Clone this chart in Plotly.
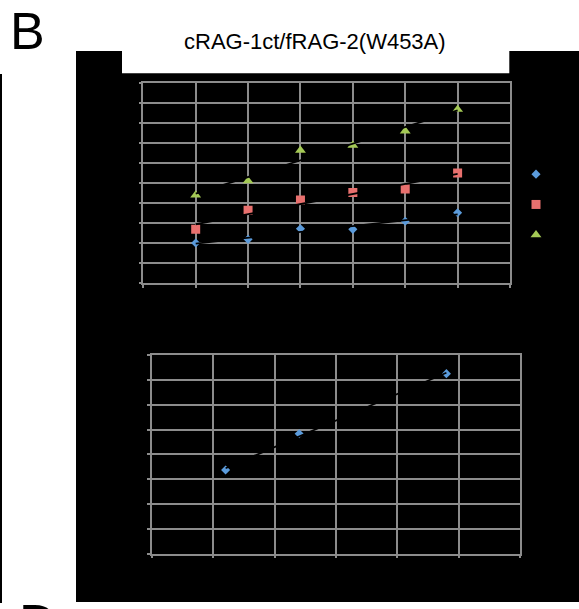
import numpy as np
import plotly.graph_objects as go

W, H = 579, 609

# ---- data: upper panel (three series at positions 1..6) ----
x_top = [1, 2, 3, 4, 5, 6]
blue_top = [2.01, 2.19, 2.72, 2.69, 3.09, 3.52]
red_top = [2.69, 3.64, 4.15, 4.53, 4.70, 5.50]
green_top = [4.40, 5.10, 6.63, 6.88, 7.59, 8.67]
series_names = ["1", "2", "3"]

# ---- data: lower panel ----
x_bot = [1.2, 2.4, 4.8]
blue_bot = [3.37, 4.83, 7.25]

title_text = "cRAG-1ct/fRAG-2(W453A)"

BLUE = "#5b9bdb"
RED = "#e8706e"
GREEN = "#a4c955"
GRID = "#8c8c8c"


def px_x(p):
    return p / W


def px_y(p):
    return 1 - p / H


fig = go.Figure()

# upper panel markers
for ys, col, sym, size, name in [
    (blue_top, BLUE, "diamond", 7, series_names[0]),
    (red_top, RED, "square", 9, series_names[1]),
    (green_top, GREEN, "triangle-up", 9.5, series_names[2]),
]:
    fig.add_trace(go.Scatter(
        x=x_top, y=ys, mode="markers", name=name,
        marker=dict(symbol=sym, size=size, color=col, line=dict(width=0)),
        xaxis="x", yaxis="y",
    ))

# linear trendlines (black, drawn over the markers)
for ys in (blue_top, red_top, green_top):
    k, b = np.polyfit(x_top, ys, 1)
    xs = np.array([x_top[0], x_top[-1]])
    fig.add_trace(go.Scatter(
        x=xs, y=k * xs + b, mode="lines", showlegend=False, hoverinfo="skip",
        line=dict(color="black", width=1.8), xaxis="x", yaxis="y",
    ))

# lower panel
fig.add_trace(go.Scatter(
    x=x_bot, y=blue_bot, mode="markers", showlegend=False,
    marker=dict(symbol="diamond", size=7, color=BLUE, line=dict(width=0)),
    xaxis="x2", yaxis="y2",
))
k, b = np.polyfit(x_bot, blue_bot, 1)
xs = np.array([x_bot[0], x_bot[-1]])
fig.add_trace(go.Scatter(
    x=xs, y=k * xs + b, mode="lines", showlegend=False, hoverinfo="skip",
    line=dict(color="black", width=1.8), xaxis="x2", yaxis="y2",
))

axis_style = dict(
    showgrid=True, gridcolor=GRID, gridwidth=1.5,
    showline=True, linecolor=GRID, linewidth=1.5, mirror=True,
    ticks="outside", ticklen=3, tickcolor=GRID, tickwidth=1.5,
    showticklabels=False, zeroline=False, dtick=1,
)

fig.update_layout(
    width=W, height=H,
    margin=dict(l=0, r=0, t=0, b=0, autoexpand=False),
    paper_bgcolor="white", plot_bgcolor="black",
    xaxis=dict(domain=[px_x(143.3), px_x(510)], range=[0, 7], anchor="y", **axis_style),
    yaxis=dict(domain=[px_y(283.3), px_y(82.7)], range=[0, 10], anchor="x", **axis_style),
    xaxis2=dict(domain=[px_x(152), px_x(520)], range=[0, 6], anchor="y2", **axis_style),
    yaxis2=dict(domain=[px_y(553.7), px_y(355)], range=[0, 8], anchor="x2", **axis_style),
    showlegend=True,
    legend=dict(
        x=px_x(516), y=px_y(154), xanchor="left", yanchor="top",
        font=dict(size=21, color="black", family="Liberation Sans, Arial"),
        bgcolor="rgba(0,0,0,0)", borderwidth=0,
    ),
    shapes=[
        # black backdrop
        dict(type="rect", xref="paper", yref="paper", layer="below",
             x0=px_x(76), x1=1, y0=px_y(602), y1=px_y(51),
             fillcolor="black", line=dict(width=0)),
        # white title band
        dict(type="rect", xref="paper", yref="paper", layer="below",
             x0=px_x(122), x1=px_x(509.3), y0=px_y(73.3), y1=px_y(51),
             fillcolor="white", line=dict(width=0)),
        # left rule
        dict(type="rect", xref="paper", yref="paper", layer="below",
             x0=0, x1=px_x(2), y0=px_y(603), y1=px_y(74),
             fillcolor="black", line=dict(width=0)),
    ],
    annotations=[
        dict(text=title_text, xref="paper", yref="paper",
             x=px_x(315), y=px_y(41), xanchor="center", yanchor="middle",
             showarrow=False,
             font=dict(size=22, color="black", family="Liberation Sans, Arial")),
        dict(text="B", xref="paper", yref="paper",
             x=px_x(27.7), y=px_y(31), xanchor="center", yanchor="middle",
             showarrow=False,
             font=dict(size=52, color="black", family="Liberation Sans, Arial")),
        dict(text="D", xref="paper", yref="paper",
             x=px_x(38), y=px_y(592), xanchor="center", yanchor="top",
             showarrow=False,
             font=dict(size=52, color="black", family="Liberation Sans, Arial")),
    ],
)

fig.write_html("out.html")
